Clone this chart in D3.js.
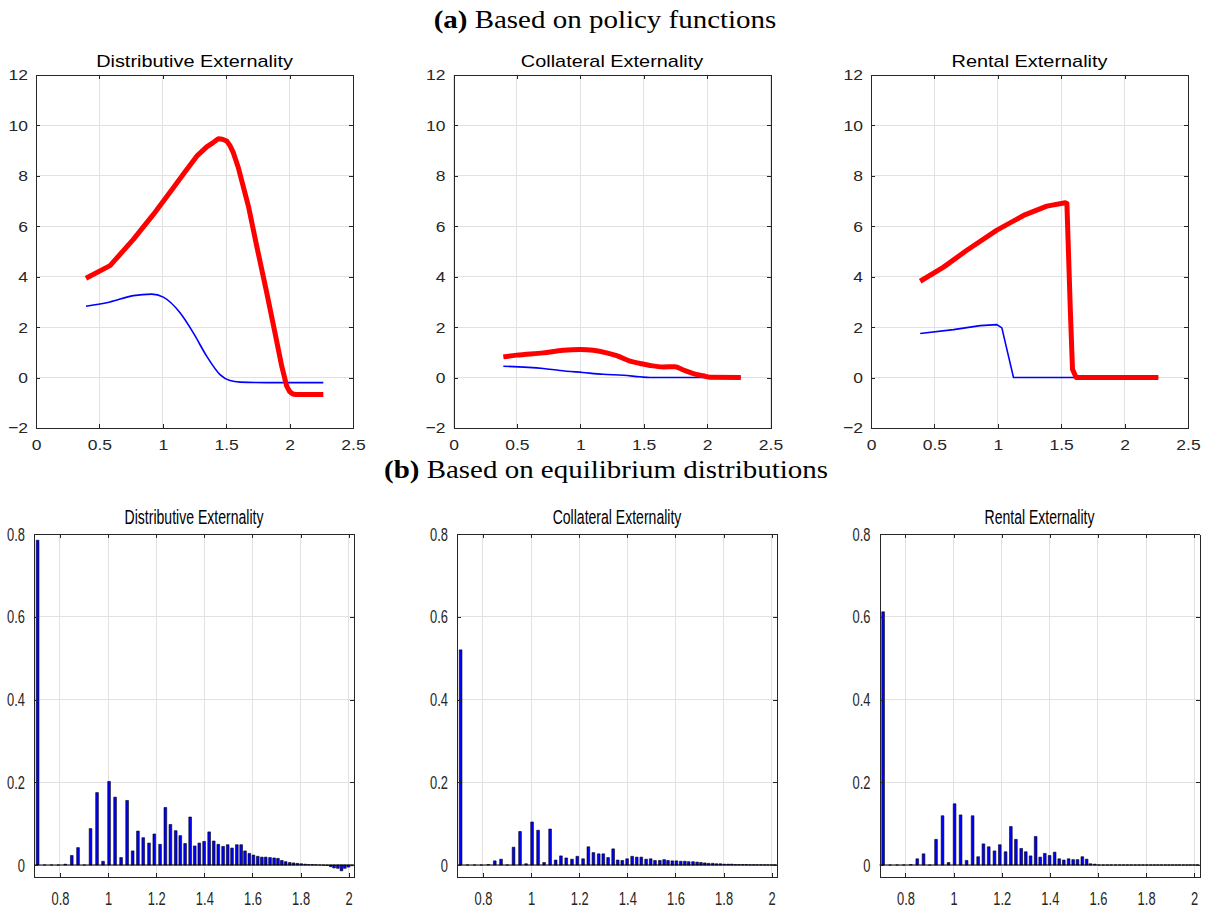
<!DOCTYPE html>
<html>
<head>
<meta charset="utf-8">
<script src="https://cdn.jsdelivr.net/npm/d3@7"></script>
<style>
  body { margin: 0; background: #fff; }
  svg { display: block; }
</style>
</head>
<body>
<svg id="fig" width="1206" height="909"></svg>
<script>
// ---------- (a) externalities along the policy functions ----------
const policyTitles = ["Distributive Externality", "Collateral Externality", "Rental Externality"];
const policyXTicks = [0, 0.5, 1, 1.5, 2, 2.5];
const policyYTicks = [-2, 0, 2, 4, 6, 8, 10, 12];

const distRedX  = [0.394, 0.584, 0.768, 0.926, 1.083, 1.189, 1.268, 1.346, 1.400, 1.438, 1.470, 1.504, 1.530, 1.556, 1.596, 1.675, 1.741, 1.820, 1.885, 1.938, 1.977, 2.000, 2.025, 2.050, 2.266];
const distRedY  = [3.94, 4.44, 5.48, 6.47, 7.53, 8.25, 8.78, 9.15, 9.33, 9.47, 9.45, 9.38, 9.20, 8.92, 8.32, 6.80, 5.21, 3.36, 1.77, 0.45, -0.34, -0.55, -0.65, -0.67, -0.67];
const distBlueX = [0.394, 0.584, 0.768, 0.913, 1.004, 1.136, 1.241, 1.346, 1.451, 1.530, 1.609, 1.820, 2.266];
const distBlueY = [2.83, 3.00, 3.25, 3.31, 3.19, 2.57, 1.77, 0.85, 0.12, -0.12, -0.18, -0.20, -0.20];

const collRedX  = [0.393, 0.498, 0.708, 0.866, 0.998, 1.103, 1.208, 1.287, 1.392, 1.471, 1.550, 1.655, 1.747, 1.813, 1.892, 1.970, 2.023, 2.266];
const collRedY  = [0.82, 0.89, 0.98, 1.08, 1.11, 1.08, 0.98, 0.87, 0.65, 0.56, 0.48, 0.42, 0.43, 0.30, 0.16, 0.07, 0.01, 0.00];
const collBlueX = [0.393, 0.708, 0.840, 1.020, 1.180, 1.340, 1.470, 1.550, 2.266];
const collBlueY = [0.45, 0.36, 0.28, 0.20, 0.13, 0.09, 0.03, 0.00, 0.00];

const rentRedX  = [0.388, 0.572, 0.756, 0.993, 1.203, 1.387, 1.532, 1.545, 1.571, 1.589, 1.618, 2.266];
const rentRedY  = [3.82, 4.38, 5.05, 5.85, 6.43, 6.80, 6.93, 6.90, 2.83, 0.33, 0.00, 0.00];
const rentBlueX = [0.388, 0.651, 0.861, 0.993, 1.032, 1.124, 2.266];
const rentBlueY = [1.75, 1.90, 2.06, 2.10, 1.97, 0.00, 0.00];

// ---------- (b) externalities weighted by the equilibrium distribution ----------
const distribTitles = ["Distributive Externality", "Collateral Externality", "Rental Externality"];
const distribXTicks = [0.8, 1, 1.2, 1.4, 1.6, 1.8, 2];
const distribYTicks = [0, 0.2, 0.4, 0.6, 0.8];

const wealthGrid = [0.707, 0.736, 0.765, 0.793, 0.822, 0.849, 0.875, 0.901, 0.927, 0.954, 0.979, 1.004, 1.029, 1.054, 1.079, 1.102, 1.124, 1.146, 1.170, 1.192, 1.216, 1.238, 1.259, 1.281, 1.300, 1.320, 1.341, 1.360, 1.379, 1.399, 1.420, 1.439, 1.458, 1.478, 1.497, 1.515, 1.535, 1.553, 1.569, 1.587, 1.604, 1.622, 1.639, 1.655, 1.673, 1.690, 1.706, 1.722, 1.738, 1.755, 1.771, 1.787, 1.803, 1.819, 1.834, 1.849, 1.864, 1.880, 1.895, 1.910, 1.925, 1.939, 1.955, 1.970, 1.984, 1.999, 2.013];
const distMass = [0.785, 0, 0, 0, 0.002, 0.023, 0.042, 0, 0.088, 0.175, 0.009, 0.202, 0.164, 0.018, 0.156, 0.034, 0.082, 0.066, 0.053, 0.075, 0.050, 0.139, 0.098, 0.083, 0.071, 0.052, 0.116, 0.046, 0.053, 0.057, 0.080, 0.058, 0.050, 0.045, 0.049, 0.041, 0.049, 0.049, 0.034, 0.028, 0.024, 0.021, 0.019, 0.019, 0.018, 0.017, 0.016, 0.011, 0.008, 0.006, 0.005, 0.004, 0.003, 0.002, 0.001, 0.001, 0.0005, 0, -0.0005, -0.001, -0.004, -0.007, -0.008, -0.014, -0.008, -0.005, -0.002];
const collMass = [0.520, 0, 0, 0, 0.001, 0.010, 0.014, 0, 0.043, 0.081, 0.003, 0.104, 0.084, 0.006, 0.087, 0.012, 0.022, 0.017, 0.014, 0.021, 0.015, 0.044, 0.030, 0.027, 0.027, 0.018, 0.039, 0.012, 0.011, 0.015, 0.021, 0.019, 0.019, 0.014, 0.015, 0.011, 0.011, 0.013, 0.011, 0.010, 0.010, 0.009, 0.009, 0.008, 0.008, 0.007, 0.006, 0.005, 0.004, 0.004, 0.003, 0.003, 0.002, 0.002, 0.002, 0.001, 0.001, 0.001, 0.001, 0.0005, 0.0005, 0.0005, 0.0005, 0.0003, 0.0003, 0.0002, 0.0002];
const rentMass = [0.612, 0, 0, 0, 0.001, 0.015, 0.027, 0, 0.062, 0.119, 0.006, 0.148, 0.121, 0.011, 0.119, 0.020, 0.051, 0.044, 0.034, 0.049, 0.032, 0.093, 0.062, 0.040, 0.032, 0.022, 0.069, 0.019, 0.028, 0.023, 0.031, 0.015, 0.012, 0.015, 0.013, 0.013, 0.020, 0.014, 0.003, 0.002, 0, 0, 0, 0, 0, 0, 0, 0, 0, 0, 0, 0, 0, 0, 0, 0, 0, 0, 0, 0, 0, 0, 0, 0, 0, 0, 0];

// ---------- drawing ----------
const svg = d3.select("#fig");
const INK = "#262626";
const GRID = "#e2e2e2";
const SANS = "'Liberation Sans', Arial, Helvetica, sans-serif";
const SERIF = "'Liberation Serif', 'Times New Roman', serif";

// squeeze or widen text horizontally around its anchor
function stretchText(sel, sx) {
  sel.each(function () {
    const t = d3.select(this);
    const x = +t.attr("x") || 0, y = +t.attr("y") || 0;
    t.attr("x", 0).attr("y", 0)
     .attr("transform", `translate(${x},${y}) scale(${sx},1)`);
  });
}

function drawGrid(g, x, y, xTicks, yTicks) {
  const [xl, xr] = x.range();
  const [yb, yt] = y.range();
  g.append("g").selectAll("line").data(xTicks).join("line")
    .attr("x1", d => x(d)).attr("x2", d => x(d)).attr("y1", yt).attr("y2", yb)
    .attr("stroke", GRID).attr("stroke-width", 1).attr("shape-rendering", "crispEdges");
  g.append("g").selectAll("line").data(yTicks).join("line")
    .attr("y1", d => y(d)).attr("y2", d => y(d)).attr("x1", xl).attr("x2", xr)
    .attr("stroke", GRID).attr("stroke-width", 1).attr("shape-rendering", "crispEdges");
}

function drawAxes(g, x, y, xTicks, yTicks, fmtX, fmtY, style) {
  const [xl, xr] = x.range();
  const [yb, yt] = y.range();
  const tick = 4;
  const gb = g.append("g").attr("transform", `translate(0,${yb})`)
    .call(d3.axisBottom(x).tickValues(xTicks).tickFormat(fmtX).tickSize(-tick).tickSizeOuter(0).tickPadding(style.padX));
  const gl = g.append("g").attr("transform", `translate(${xl},0)`)
    .call(d3.axisLeft(y).tickValues(yTicks).tickFormat(fmtY).tickSize(-tick).tickSizeOuter(0).tickPadding(style.padY));
  g.append("g").attr("transform", `translate(0,${yt})`)
    .call(d3.axisTop(x).tickValues(xTicks).tickFormat("").tickSize(-tick).tickSizeOuter(0));
  g.append("g").attr("transform", `translate(${xr},0)`)
    .call(d3.axisRight(y).tickValues(yTicks).tickFormat("").tickSize(-tick).tickSizeOuter(0));
  g.selectAll(".domain, .tick line").attr("stroke", INK).attr("stroke-width", 1)
    .attr("shape-rendering", "crispEdges");
  [gb, gl].forEach(a => a.selectAll("text")
    .attr("fill", INK).attr("font-family", SANS).attr("font-size", style.tickSize));
  stretchText(gb.selectAll("text"), style.sx);
  stretchText(gl.selectAll("text"), style.sx);
}

function drawTitle(g, cx, baseline, label, style) {
  g.append("text")
    .attr("text-anchor", "middle").attr("font-family", SANS)
    .attr("font-size", style.titleSize).attr("fill", "#000")
    .attr("transform", `translate(${cx},${baseline}) scale(${style.titleSx},1)`)
    .text(label);
}

// ----- top row -----
const topBoxes = [
  { l: 36,    r: 353,   t: 75, b: 428 },
  { l: 453.5, r: 770.5, t: 75, b: 428 },
  { l: 871,   r: 1188,  t: 75, b: 428 }
];
const topStyle = { padX: 11, padY: 8, tickSize: 15.5, sx: 1.13, titleSize: 17, titleSx: 1.17 };
const policySeries = [
  { red: [distRedX, distRedY], blue: [distBlueX, distBlueY], redCurve: d3.curveLinear, blueCurve: d3.curveMonotoneX },
  { red: [collRedX, collRedY], blue: [collBlueX, collBlueY], redCurve: d3.curveMonotoneX, blueCurve: d3.curveMonotoneX },
  { red: [rentRedX, rentRedY], blue: [rentBlueX, rentBlueY], redCurve: d3.curveLinear, blueCurve: d3.curveLinear }
];
const fmtPolicy = d => d3.format("")(d);

topBoxes.forEach((box, i) => {
  const g = svg.append("g");
  const x = d3.scaleLinear().domain([0, 2.5]).range([box.l, box.r]);
  const y = d3.scaleLinear().domain([-2, 12]).range([box.b, box.t]);
  g.append("rect").attr("x", box.l).attr("y", box.t)
    .attr("width", box.r - box.l).attr("height", box.b - box.t).attr("fill", "#fff");
  drawGrid(g, x, y, policyXTicks, policyYTicks);
  const s = policySeries[i];
  const pts = ([xs, ys]) => xs.map((v, k) => [v, ys[k]]);
  const line = c => d3.line().x(d => x(d[0])).y(d => y(d[1])).curve(c);
  g.append("path").attr("d", line(s.blueCurve)(pts(s.blue)))
    .attr("fill", "none").attr("stroke", "#0000ff").attr("stroke-width", 1.6)
    .attr("stroke-linejoin", "round");
  g.append("path").attr("d", line(s.redCurve)(pts(s.red)))
    .attr("fill", "none").attr("stroke", "#ff0000").attr("stroke-width", 5)
    .attr("stroke-linejoin", "round");
  drawAxes(g, x, y, policyXTicks, policyYTicks, fmtPolicy, fmtPolicy, topStyle);
  drawTitle(g, (box.l + box.r) / 2, 67, policyTitles[i], topStyle);
});

// ----- bottom row -----
const botBoxes = [
  { l: 34,    r: 354,    t: 534, b: 877 },
  { l: 457,   r: 777,    t: 534, b: 877 },
  { l: 879.5, r: 1199.5, t: 534, b: 877 }
];
const botStyle = { padX: 14, padY: 9, tickSize: 19, sx: 0.68, titleSize: 19.5, titleSx: 0.72 };
const masses = [distMass, collMass, rentMass];
const fmtDistrib = d => d3.format("")(+d.toFixed(1));

botBoxes.forEach((box, i) => {
  const g = svg.append("g");
  const x = d3.scaleLinear().domain([0.692, 2.022]).range([box.l, box.r]);
  const y = d3.scaleLinear().domain([-0.029, 0.8]).range([box.b, box.t]);
  g.append("rect").attr("x", box.l).attr("y", box.t)
    .attr("width", box.r - box.l).attr("height", box.b - box.t).attr("fill", "#fff");
  drawGrid(g, x, y, distribXTicks, distribYTicks);
  // bar width: 80% of the tightest grid spacing
  const minGap = d3.min(d3.pairs(wealthGrid), ([a, b]) => x(b) - x(a));
  const w = 0.8 * minGap;
  const y0 = y(0);
  g.append("g").selectAll("path").data(wealthGrid.map((v, k) => [v, masses[i][k]])).join("path")
    .attr("d", d => {
      const a = x(d[0]) - w / 2, b = x(d[0]) + w / 2, yv = y(d[1]);
      return `M${a},${y0}V${yv}H${b}V${y0}Z`;
    })
    .attr("fill", "#0000ff").attr("stroke", "#000").attr("stroke-width", 0.6);
  g.append("line").attr("x1", box.l).attr("x2", box.r).attr("y1", y0).attr("y2", y0)
    .attr("stroke", "#000").attr("stroke-width", 1.2);
  drawAxes(g, x, y, distribXTicks, distribYTicks, fmtDistrib, fmtDistrib, botStyle);
  drawTitle(g, (box.l + box.r) / 2, 524, distribTitles[i], botStyle);
});

// ----- row headings -----
function heading(label, tag, cx, baseline, targetW) {
  const t = svg.append("text").attr("font-family", SERIF).attr("font-size", 25).attr("fill", "#000")
    .attr("text-anchor", "middle");
  t.append("tspan").attr("font-weight", "bold").text(tag);
  t.append("tspan").text(" " + label);
  const natural = t.node().getComputedTextLength();
  t.attr("transform", `translate(${cx},${baseline}) scale(${targetW / natural},1)`);
}
heading("Based on policy functions", "(a)", 605, 28, 343);
heading("Based on equilibrium distributions", "(b)", 606, 478, 444);
</script>
</body>
</html>
